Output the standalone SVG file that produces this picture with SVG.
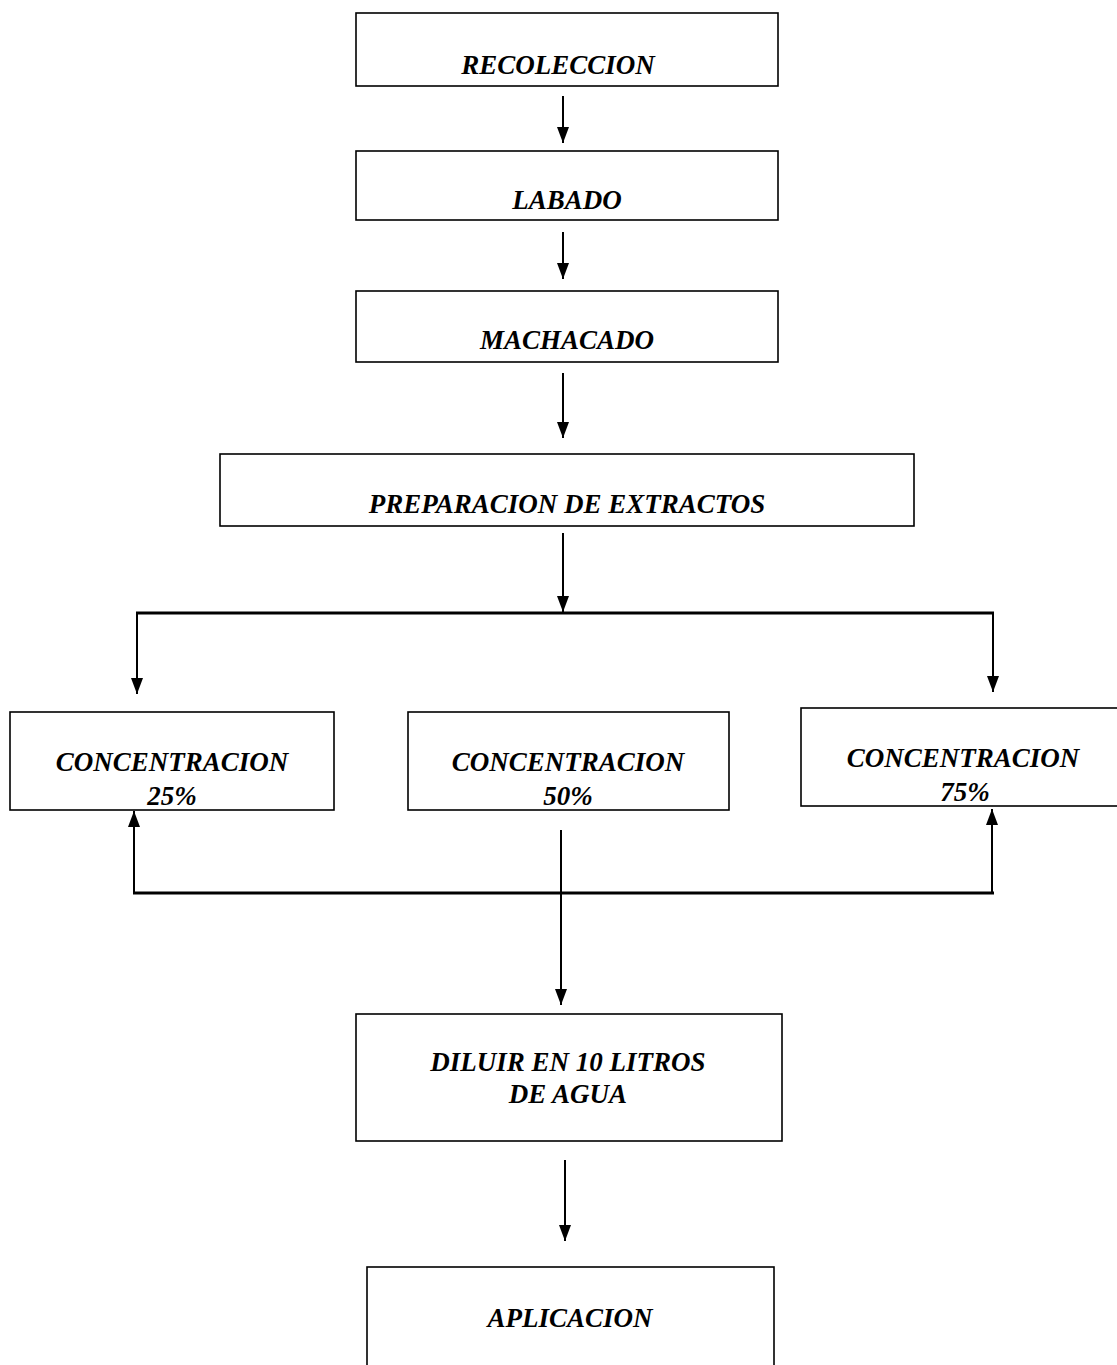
<svg xmlns="http://www.w3.org/2000/svg" width="1117" height="1365" viewBox="0 0 1117 1365">
<style>
.box{fill:#fff;stroke:#000;stroke-width:1.6}
.t{font-family:"Liberation Serif","Times New Roman",serif;font-weight:bold;font-style:italic;font-size:27px;text-anchor:middle;fill:#000}
.c{stroke:#000;stroke-width:2;fill:none}
.h{stroke:#000;stroke-width:3;fill:none}
</style>
<defs>
<marker id="ah" viewBox="0 0 16 12" refX="16" refY="6" markerWidth="16" markerHeight="12" markerUnits="userSpaceOnUse" orient="auto">
<path d="M0,0 L16,6 L0,12 Z" fill="#000"/>
</marker>
</defs>
<rect width="1117" height="1365" fill="#fff"/>
<g id="connectors">
<line class="c" x1="563" y1="96" x2="563" y2="143" marker-end="url(#ah)"/>
<line class="c" x1="563" y1="232" x2="563" y2="279" marker-end="url(#ah)"/>
<line class="c" x1="563" y1="373" x2="563" y2="438" marker-end="url(#ah)"/>
<line class="c" x1="563" y1="533" x2="563" y2="612" marker-end="url(#ah)"/>
<line class="h" x1="136" y1="613" x2="994" y2="613"/>
<line class="c" x1="137" y1="613" x2="137" y2="694" marker-end="url(#ah)"/>
<line class="c" x1="993" y1="613" x2="993" y2="692" marker-end="url(#ah)"/>
<line class="h" x1="133" y1="893" x2="994" y2="893"/>
<line class="c" x1="134" y1="893" x2="134" y2="811" marker-end="url(#ah)"/>
<line class="c" x1="992" y1="893" x2="992" y2="809" marker-end="url(#ah)"/>
<line class="c" x1="561" y1="830" x2="561" y2="1005" marker-end="url(#ah)"/>
<line class="c" x1="565" y1="1160" x2="565" y2="1241" marker-end="url(#ah)"/>
</g>
<g id="recoleccion"><rect class="box" x="356" y="13" width="422" height="73"/><text class="t" x="558" y="74">RECOLECCION</text></g>
<g id="labado"><rect class="box" x="356" y="151" width="422" height="69"/><text class="t" x="567" y="209">LABADO</text></g>
<g id="machacado"><rect class="box" x="356" y="291" width="422" height="71"/><text class="t" x="567" y="349">MACHACADO</text></g>
<g id="preparacion"><rect class="box" x="220" y="454" width="694" height="72"/><text class="t" x="567" y="513">PREPARACION DE EXTRACTOS</text></g>
<g id="conc25"><rect class="box" x="10" y="712" width="324" height="98"/><text class="t" x="172" y="771">CONCENTRACION</text><text class="t" x="172" y="805">25%</text></g>
<g id="conc50"><rect class="box" x="408" y="712" width="321" height="98"/><text class="t" x="568" y="771">CONCENTRACION</text><text class="t" x="568" y="805">50%</text></g>
<g id="conc75"><rect class="box" x="801" y="708" width="320" height="98"/><text class="t" x="963" y="767">CONCENTRACION</text><text class="t" x="965" y="801">75%</text></g>
<g id="diluir"><rect class="box" x="356" y="1014" width="426" height="127"/><text class="t" x="568" y="1071">DILUIR EN 10 LITROS</text><text class="t" x="568" y="1103">DE AGUA</text></g>
<g id="aplicacion"><rect class="box" x="367" y="1267" width="407" height="120"/><text class="t" x="570" y="1327">APLICACION</text></g>
</svg>
